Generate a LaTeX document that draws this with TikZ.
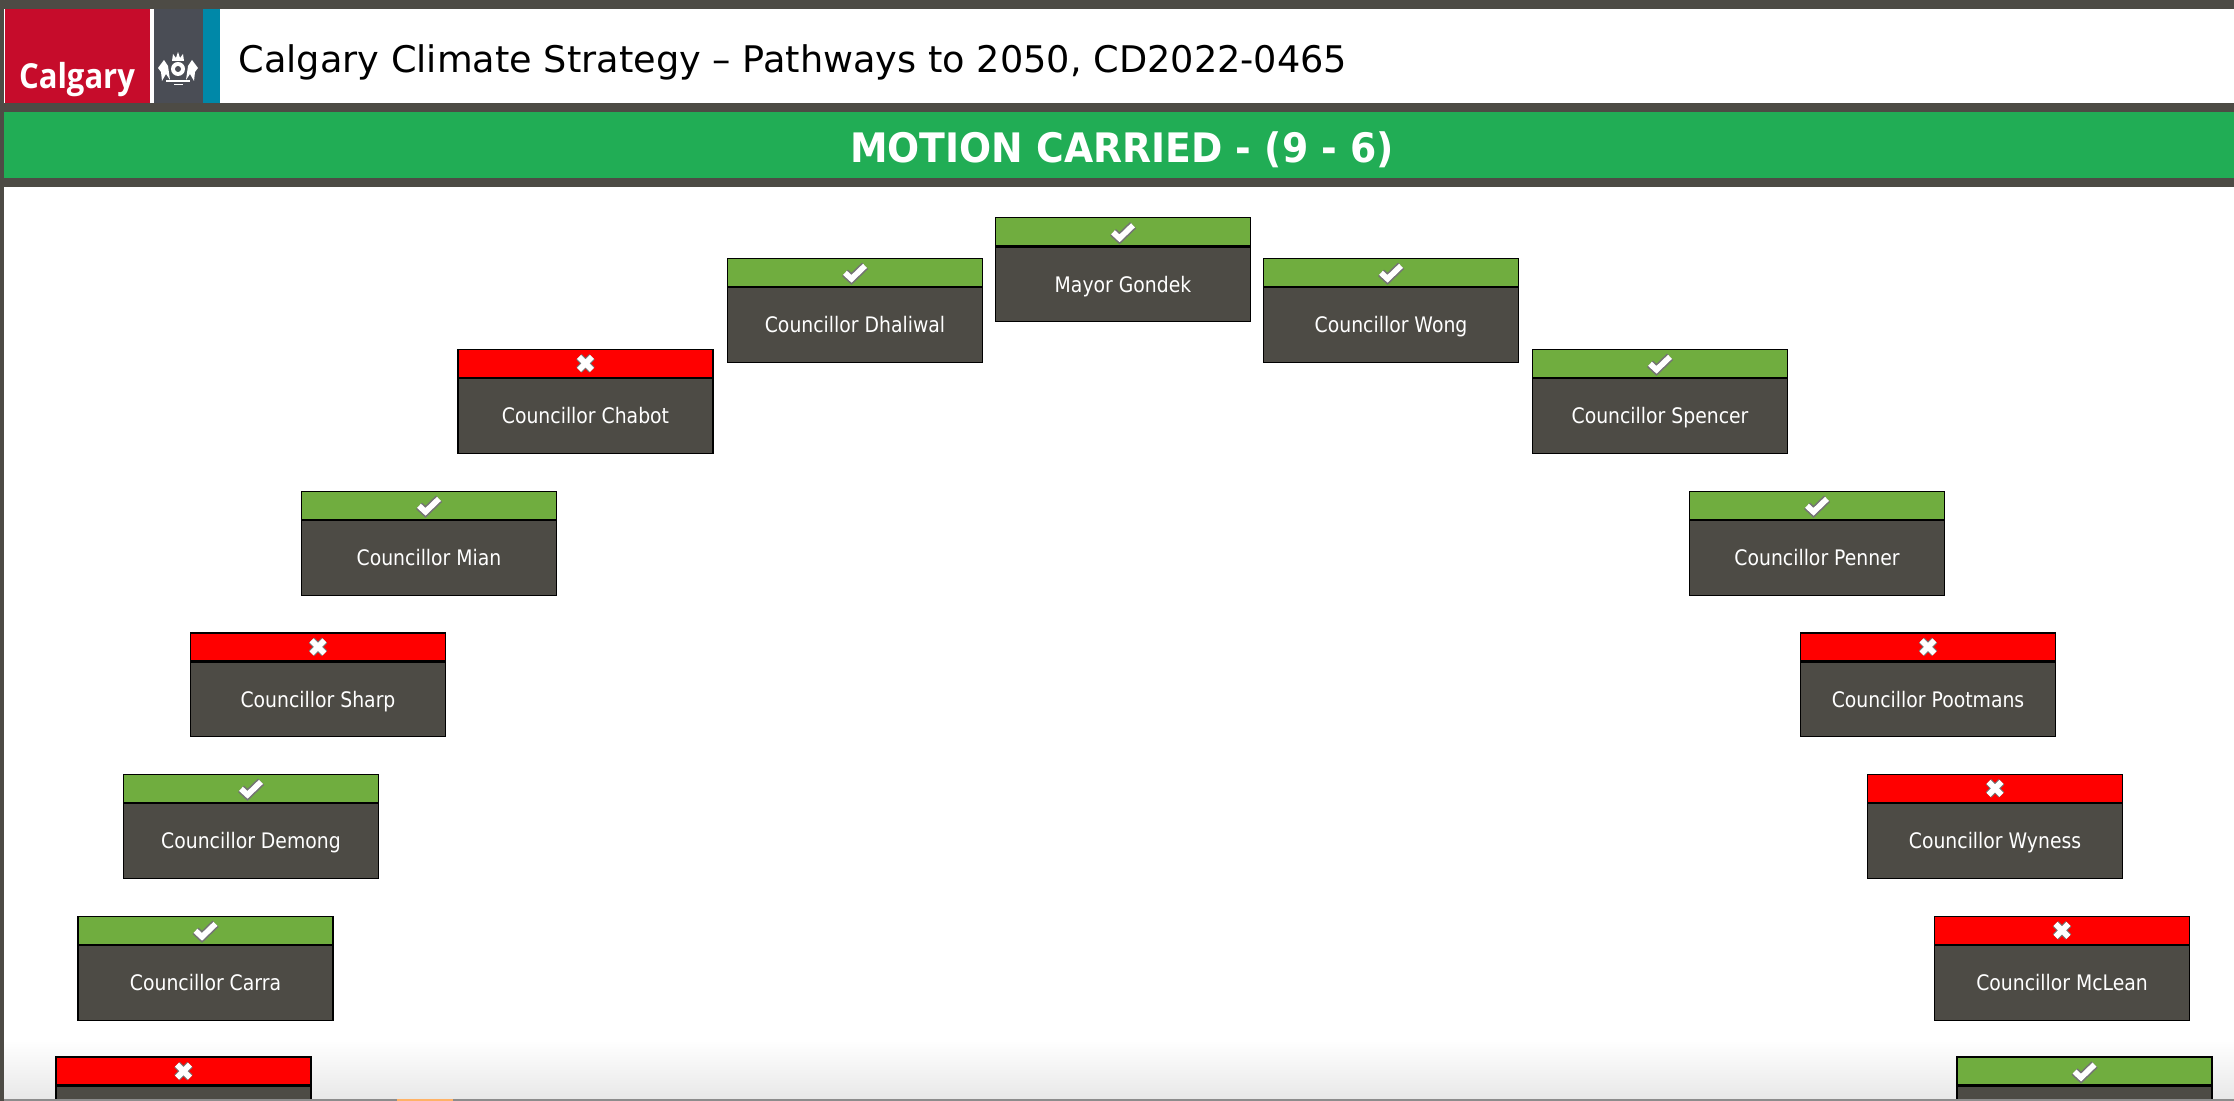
\documentclass[tikz,border=0pt]{standalone}
\usepackage{fontspec}
\usetikzlibrary{positioning}
\setmainfont{DejaVu Sans}
\newfontfamily\namefont[FakeStretch=0.88]{DejaVu Sans}
\newfontfamily\resultfont[FakeStretch=0.93]{DejaVu Sans}
\newfontfamily\logofont[FakeStretch=0.9]{Open Sans}
\definecolor{bandgrey}{HTML}{4D4B45}
\definecolor{logored}{HTML}{C60C2B}
\definecolor{logoslate}{HTML}{4A4D55}
\definecolor{logoteal}{HTML}{0088A8}
\definecolor{carriedgreen}{HTML}{21AD55}
\definecolor{yesgreen}{HTML}{70AD3F}
\definecolor{nored}{HTML}{FF0000}
\begin{document}
\begin{tikzpicture}[x=0.01cm,y=-0.01cm,node distance=0pt]
    \tikzstyle{member}=[draw=black,line width=0.4pt,fill=bandgrey,text=white,inner sep=0pt,
      minimum width=2.55cm,minimum height=0.745cm,text height=5.5pt,text depth=1pt,
      font=\namefont\fontsize{6.08}{7}\selectfont]
    \tikzstyle{vote}=[draw=black,line width=0.4pt,inner sep=0pt,
      minimum width=2.55cm,minimum height=0.28cm]
    \tikzstyle{yes}=[vote,fill=yesgreen,path picture={
      \draw[black!55,line width=2.5pt] ([shift={(-10,0.5)}]path picture bounding box.center)
        -- ++(6.5,6) -- ++(13.5,-13);
      \draw[white,line width=1.6pt] ([shift={(-10,0.5)}]path picture bounding box.center)
        -- ++(6.5,6) -- ++(13.5,-13);}]
    \tikzstyle{no}=[vote,fill=nored,path picture={
      \draw[black!55,line width=2.2pt] ([shift={(-6.5,-6.5)}]path picture bounding box.center)
        -- ++(13,13) ([shift={(6.5,-6.5)}]path picture bounding box.center) -- ++(-13,13);
      \draw[white,line width=1.6pt] ([shift={(-6.5,-6.5)}]path picture bounding box.center)
        -- ++(13,13) ([shift={(6.5,-6.5)}]path picture bounding box.center) -- ++(-13,13);}]
    \useasboundingbox (0,0) rectangle (2234,1101);

    % frame and title bars
    \fill[white] (0,0) rectangle (2234,1101);
    \fill[bandgrey] (0,0) rectangle (2234,9);
    \fill[bandgrey] (0,103) rectangle (2234,187);
    \fill[bandgrey] (0,0) rectangle (4,1101);
    \fill[carriedgreen] (4,112) rectangle (2234,178);
    \shade[top color=white,bottom color=black!9] (4,1040) rectangle (2234,1099);

    % logo
    \fill[logored] (5,9) rectangle (150,103);
    \fill[logoslate] (154,9) rectangle (203,103);
    \fill[logoteal] (203,9) rectangle (220,103);
    \node[text=white,inner sep=0pt,font=\logofont\bfseries\fontsize{9.8}{10}\selectfont] (logotext) at (77,80) {Calgary};
    \fill[white] (178,69) circle (7);
    \fill[logoslate] (178,69) circle (3);
    \fill[white] (172,61) -- (173,54) -- (176,58) -- (178,52) -- (180,58) -- (183,54) -- (184,61) -- cycle;
    \fill[white] (158,68) -- (164,60) -- (168,66) -- (170,80) -- (166,74) -- (162,81) -- (161,72) -- cycle;
    \fill[white] (198,68) -- (192,60) -- (188,66) -- (186,80) -- (190,74) -- (194,81) -- (195,72) -- cycle;
    \fill[white] (166,80) rectangle (190,82);
    \fill[white] (174,84) rectangle (183,85);

    % title texts
    \node[anchor=west,inner sep=0pt,font=\fontsize{10.43}{12}\selectfont] (title) at (238,62) {Calgary Climate Strategy -- Pathways to 2050, CD2022-0465};
    \node[text=white,inner sep=0pt,font=\resultfont\bfseries\fontsize{11.55}{13}\selectfont] (result) at (1122,149.5) {MOTION CARRIED - (9 - 6)};

    % council seats
    \node[member] (gondek) at (1123,284.5) {Mayor Gondek};
    \node[yes,above=of gondek] (vgondek) {};
    \node[member] (dhaliwal) at (855,325) {Councillor Dhaliwal};
    \node[yes,above=of dhaliwal] (vdhaliwal) {};
    \node[member] (wong) at (1391,325) {Councillor Wong};
    \node[yes,above=of wong] (vwong) {};
    \node[member] (chabot) at (585.5,416) {Councillor Chabot};
    \node[no,above=of chabot] (vchabot) {};
    \node[member] (spencer) at (1660,416) {Councillor Spencer};
    \node[yes,above=of spencer] (vspencer) {};
    \node[member] (mian) at (429,558) {Councillor Mian};
    \node[yes,above=of mian] (vmian) {};
    \node[member] (penner) at (1817,558) {Councillor Penner};
    \node[yes,above=of penner] (vpenner) {};
    \node[member] (sharp) at (318,699.5) {Councillor Sharp};
    \node[no,above=of sharp] (vsharp) {};
    \node[member] (pootmans) at (1928,699.5) {Councillor Pootmans};
    \node[no,above=of pootmans] (vpootmans) {};
    \node[member] (demong) at (251,841) {Councillor Demong};
    \node[yes,above=of demong] (vdemong) {};
    \node[member] (wyness) at (1995,841) {Councillor Wyness};
    \node[no,above=of wyness] (vwyness) {};
    \node[member] (carra) at (205.5,983) {Councillor Carra};
    \node[yes,above=of carra] (vcarra) {};
    \node[member] (mclean) at (2062,983) {Councillor McLean};
    \node[no,above=of mclean] (vmclean) {};

    % last row runs off the bottom of the screen
    \node[member,minimum height=0.13cm,text height=0pt,text depth=0pt] (lastleft) at (183.5,1093) {};
    \node[no,above=of lastleft] (vlastleft) {};
    \node[member,minimum height=0.13cm,text height=0pt,text depth=0pt] (lastright) at (2084.5,1093) {};
    \node[yes,above=of lastright] (vlastright) {};

    \fill[black!45] (4,1099) rectangle (2234,1101);
    \fill[orange!60] (397,1099) rectangle (453,1101);
\end{tikzpicture}
\end{document}
